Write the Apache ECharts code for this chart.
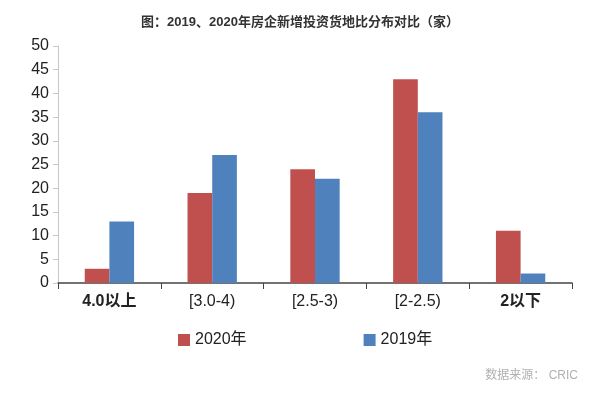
<!DOCTYPE html>
<html>
<head>
<meta charset="utf-8">
<script src="https://cdn.jsdelivr.net/npm/echarts@6/dist/echarts.min.js"></script>
<style>
html,body{margin:0;padding:0;background:#fff;}
#c{width:600px;height:395px;}
</style>
</head>
<body>
<div id="c"></div>
<script>
var categories = ['4.0以上', '[3.0-4)', '[2.5-3)', '[2-2.5)', '2以下'];
var boldCategories = ['4.0以上', '2以下'];
var values2020 = [3, 19, 24, 43, 11];
var values2019 = [13, 27, 22, 36, 2];
var seriesNames = ['2020年', '2019年'];
var yTicks = [0, 5, 10, 15, 20, 25, 30, 35, 40, 45, 50];
var titleText = '图：2019、2020年房企新增投资货地比分布对比（家）';
var sourceText = '数据来源： CRIC';

var FONT = '"Liberation Sans", Arial, "Noto Sans CJK SC", sans-serif';
var chart = echarts.init(document.getElementById('c'));
chart.setOption({
  animation: false,
  backgroundColor: '#fff',
  textStyle: { fontFamily: FONT },
  title: {
    text: titleText,
    left: 'center',
    top: 11,
    textStyle: { fontSize: 13, fontWeight: 'bold', color: '#333', fontFamily: FONT }
  },
  legend: {
    data: seriesNames,
    left: 173,
    top: 327,
    itemWidth: 12,
    itemHeight: 12,
    itemGap: 117,
    icon: 'rect',
    textStyle: { fontSize: 16, color: '#222', fontFamily: FONT }
  },
  graphic: [{
    type: 'text',
    right: 22,
    top: 370,
    style: { text: sourceText, fill: '#b0b0b0', fontSize: 12, fontFamily: FONT }
  }],
  grid: { left: 58, right: 28, top: 46, bottom: 112, containLabel: false },
  xAxis: {
    type: 'category',
    data: categories.map(function (c) {
      return boldCategories.indexOf(c) >= 0 ? { value: c, textStyle: { fontWeight: 'bold' } } : c;
    }),
    boundaryGap: true,
    axisLine: { lineStyle: { color: '#444', width: 1.5 } },
    axisTick: { show: true, length: 6, lineStyle: { color: '#444' } },
    axisLabel: { fontSize: 16, color: '#222', margin: 11, fontFamily: FONT }
  },
  yAxis: {
    type: 'value',
    min: yTicks[0],
    max: yTicks[yTicks.length - 1],
    interval: yTicks[1] - yTicks[0],
    axisLine: { show: true, lineStyle: { color: '#c8c8c8' } },
    axisTick: { show: true, length: 5, lineStyle: { color: '#c8c8c8' } },
    splitLine: { show: false },
    axisLabel: { fontSize: 16, color: '#222', margin: 9, fontFamily: FONT }
  },
  series: [
    {
      name: seriesNames[0], type: 'bar', data: values2020,
      barGap: '0%', barCategoryGap: '52%',
      itemStyle: { color: '#C0504D' }
    },
    {
      name: seriesNames[1], type: 'bar', data: values2019,
      barGap: '0%', barCategoryGap: '52%',
      itemStyle: { color: '#4F81BD' }
    }
  ]
});
</script>
</body>
</html>
